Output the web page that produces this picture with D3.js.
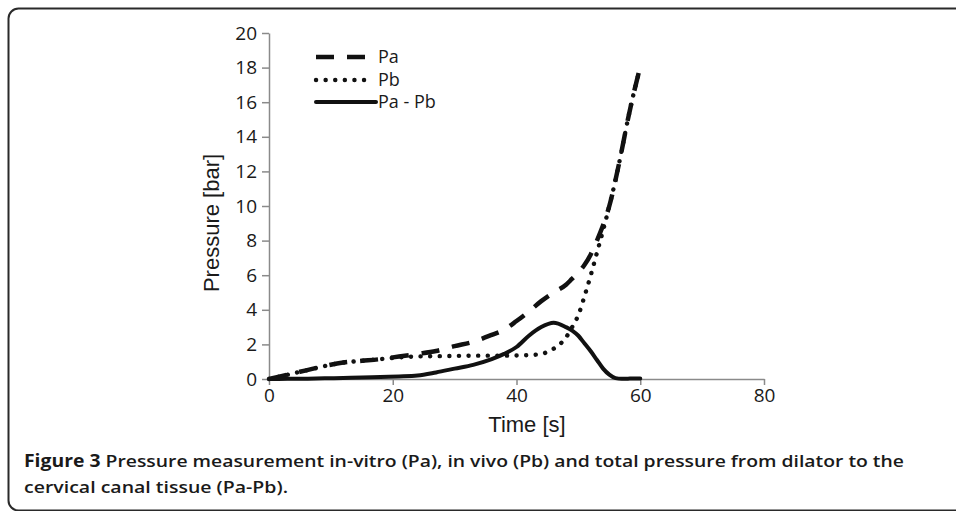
<!DOCTYPE html>
<html lang="en">
<head>
    <meta charset="UTF-8">
    <title>Figure 3</title>
    <script src="https://d3js.org/d3.v7.min.js"></script>
    <style>
        body { margin: 0; background: #fff; }
        svg { display: block; }
    </style>
</head>
<body>
    <script>
        // chart data
        const timeS = [0, 3, 6, 9, 12, 15, 18, 21, 24, 27, 30, 33, 36, 38, 40, 42, 44, 46, 48, 49, 50, 51, 52, 53, 54, 55, 56, 57, 58, 59, 60];
        const pa = [0, 0.25, 0.5, 0.75, 0.95, 1.05, 1.15, 1.3, 1.45, 1.62, 1.9, 2.15, 2.55, 2.85, 3.35, 3.9, 4.5, 5.0, 5.45, 5.8, 6.15, 6.6, 7.2, 8.0, 8.9, 10.0, 11.5, 13.2, 15.0, 16.6, 18.05];
        const pb = [0, 0.25, 0.5, 0.75, 0.95, 1.05, 1.15, 1.25, 1.3, 1.32, 1.33, 1.35, 1.35, 1.35, 1.36, 1.38, 1.45, 1.75, 2.4, 3.0, 3.7, 4.8, 6.0, 7.3, 8.6, 10.0, 11.5, 13.2, 15.0, 16.6, 18.0];
        const paMinusPb = [0, 0.01, 0.02, 0.04, 0.06, 0.08, 0.12, 0.15, 0.2, 0.38, 0.6, 0.82, 1.15, 1.45, 1.85, 2.5, 3.0, 3.25, 3.0, 2.8, 2.5, 2.05, 1.6, 1.1, 0.6, 0.25, 0.05, 0.01, 0.02, 0.03, 0.03];
        const seriesNames = ["Pa", "Pb", "Pa - Pb"];
        const xTicks = [0, 20, 40, 60, 80];
        const yTicks = [0, 2, 4, 6, 8, 10, 12, 14, 16, 18, 20];

        const w = 956;
        const h = 511;

        const svg = d3.select("body")
            .append("svg")
            .attr("width", w)
            .attr("height", h);

        // frame round the figure (runs off the right and bottom edges)
        svg.append("rect")
            .attr("x", 8.5)
            .attr("y", 8.5)
            .attr("width", 1000)
            .attr("height", 502)
            .attr("rx", 10)
            .attr("fill", "none")
            .attr("stroke", "#2a2a2a")
            .attr("stroke-width", 2);

        const xScale = d3.scaleLinear().domain([0, 80]).range([269, 764]);
        const yScale = d3.scaleLinear().domain([0, 20]).range([379, 33]);

        const tickFont = "'Open Sans', sans-serif";

        const xAxis = svg.append("g")
            .attr("transform", `translate(0, ${yScale(0)})`)
            .call(d3.axisBottom(xScale).tickValues(xTicks).tickSize(6).tickSizeOuter(0).tickPadding(4));

        const yAxis = svg.append("g")
            .attr("transform", `translate(${xScale(0)}, 0)`)
            .call(d3.axisLeft(yScale).tickValues(yTicks).tickSize(7).tickSizeOuter(0).tickPadding(5));

        [xAxis, yAxis].forEach(ax => {
            ax.select(".domain").attr("stroke", "#8a8a8a").attr("stroke-width", 1.5);
            ax.selectAll(".tick line").attr("stroke", "#8a8a8a").attr("stroke-width", 1.5);
            ax.selectAll(".tick text")
                .attr("fill", "#1a1a1a")
                .style("font-family", tickFont)
                .style("font-size", "19px");
        });

        // axis titles
        svg.append("text")
            .attr("x", 527)
            .attr("y", 432)
            .attr("text-anchor", "middle")
            .style("font-family", "'Liberation Sans', Arial, sans-serif")
            .style("font-size", "22px")
            .attr("fill", "#1a1a1a")
            .text("Time [s]");

        svg.append("text")
            .attr("transform", "translate(219, 223) rotate(-90)")
            .attr("text-anchor", "middle")
            .style("font-family", "'Liberation Sans', Arial, sans-serif")
            .style("font-size", "22px")
            .attr("fill", "#1a1a1a")
            .text("Pressure [bar]");

        // line styles per series
        const styles = [
            { values: pa, dash: "18 13", cap: "butt", width: 4.5 },
            { values: pb, dash: "0.1 9.5", cap: "round", width: 4.4 },
            { values: paMinusPb, dash: null, cap: "round", width: 4 }
        ];

        const line = d3.line()
            .x(d => xScale(d[0]))
            .y(d => yScale(d[1]))
            .curve(d3.curveMonotoneX);

        styles.forEach(s => {
            svg.append("path")
                .datum(timeS.map((t, i) => [t, s.values[i]]))
                .attr("d", line)
                .attr("fill", "none")
                .attr("stroke", "#111")
                .attr("stroke-width", s.width)
                .attr("stroke-linecap", s.cap)
                .attr("stroke-linejoin", "round")
                .attr("stroke-dasharray", s.dash);
        });

        // legend
        const legend = svg.append("g");
        const legendY = [57, 80, 102];
        const legendEnd = [367, 367, 376];
        seriesNames.forEach((name, i) => {
            legend.append("line")
                .attr("x1", 316)
                .attr("x2", legendEnd[i])
                .attr("y1", legendY[i])
                .attr("y2", legendY[i])
                .attr("stroke", "#111")
                .attr("stroke-width", styles[i].width)
                .attr("stroke-linecap", styles[i].cap)
                .attr("stroke-dasharray", styles[i].dash);
            legend.append("text")
                .attr("x", 378)
                .attr("y", legendY[i])
                .attr("dy", "0.35em")
                .style("font-family", tickFont)
                .style("font-size", "18px")
                .attr("fill", "#1a1a1a")
                .text(name);
        });

        // caption
        const caption = svg.append("g")
            .style("font-family", "'Open Sans', sans-serif")
            .style("font-size", "17px")
            .attr("fill", "#1a1a1a");

        const line1 = caption.append("text")
            .attr("x", 24)
            .attr("y", 467)
            .attr("textLength", 880)
            .attr("lengthAdjust", "spacingAndGlyphs");
        line1.append("tspan").style("font-weight", 700).text("Figure 3");
        line1.append("tspan").style("font-weight", 600).text(" Pressure measurement in-vitro (Pa), in vivo (Pb) and total pressure from dilator to the");

        caption.append("text")
            .attr("x", 24)
            .attr("y", 493)
            .attr("textLength", 264)
            .attr("lengthAdjust", "spacingAndGlyphs")
            .style("font-weight", 600)
            .text("cervical canal tissue (Pa-Pb).");
    </script>
</body>
</html>
